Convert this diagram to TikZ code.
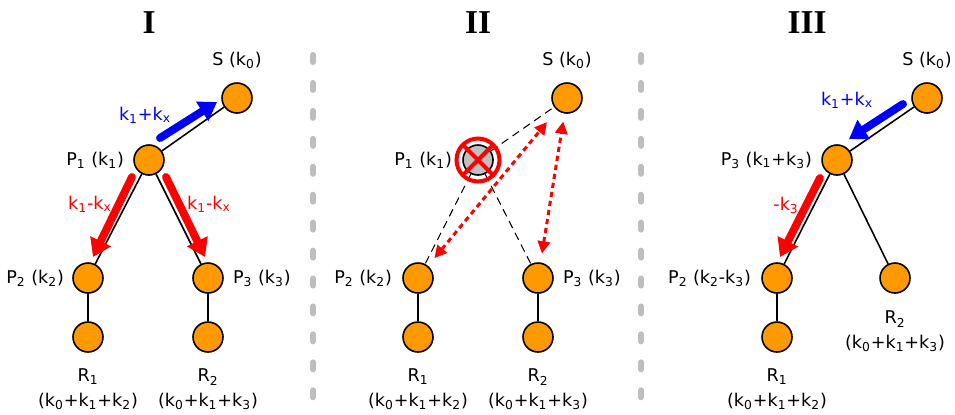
\documentclass[tikz,border=0pt]{standalone}
\usepackage{fontspec}
\setmainfont{DejaVu Sans}
\newfontfamily\titlefont{Liberation Serif}
\usetikzlibrary{arrows.meta,positioning,calc}
\definecolor{PeerOrange}{RGB}{255,153,0}
\definecolor{DeadGray}{RGB}{192,192,192}
\definecolor{SplitGray}{RGB}{190,190,190}
\newcommand{\ssub}[1]{\textsubscript{#1}}
\tikzset{
  peer/.style={circle,draw=black,fill=PeerOrange,line width=0.9pt,
    minimum size=0.6cm,inner sep=0pt},
  dead/.style={peer,fill=DeadGray},
  tag/.style={inner sep=0pt,align=center,font=\fontsize{10}{14.2}\selectfont},
  heading/.style={inner sep=0pt,font=\titlefont\bfseries\fontsize{19}{22}\selectfont},
  link/.style={line width=0.9pt},
  lost/.style={line width=0.6pt,dash pattern=on 4.5pt off 3pt},
  split/.style={line width=3.4pt,SplitGray,line cap=round,
    dash pattern=on 4pt off 11.9pt},
  gain/.style={line width=4.5pt,blue,line cap=round,
    -{Triangle[length=10pt,width=12.5pt]}},
  drop/.style={gain,red},
  probe/.style={line width=1.7pt,red,dash pattern=on 3pt off 2.2pt,
    {Triangle[length=7pt,width=7pt]}-{Triangle[length=7pt,width=7pt]}},
  cross/.style={line width=2.3pt,red}
}

\begin{document}
\begin{tikzpicture}[x=0.02cm,y=-0.02cm]
\useasboundingbox (0,0) rectangle (955,414);

% Titles
\node[heading] (t1) at (149,23) {I};
\node[heading] (t2) at (478,23) {II};
\node[heading] (t3) at (807,23) {III};

% Separators
\foreach \x in {313,641}{
  \draw[split] (\x,55) -- (\x,414);
}

% ---- I ----
\node[peer] (s1) at (237,98) {};
\node[peer] (p11) at (149,160) {};
\node[peer] (p12) at (88,278) {};
\node[peer] (p13) at (208,278) {};
\node[peer] (r11) at (88,337) {};
\node[peer] (r12) at (208,337) {};
\foreach \a/\b in {p11/s1,p11/p12,p11/p13,p12/r11,p13/r12}
  \draw[link] (\a) -- (\b);

\node[tag,above=0.26cm of s1] {S (k\ssub{0})};
\node[tag,left=0.18cm of p11] {P\ssub{1} (k\ssub{1})};
\node[tag,left=0.16cm of p12] {P\ssub{2} (k\ssub{2})};
\node[tag,right=0.18cm of p13] {P\ssub{3} (k\ssub{3})};
\node[tag,below=0.32cm of r11] {R\ssub{1}\\(k\ssub{0}+k\ssub{1}+k\ssub{2})};
\node[tag,below=0.32cm of r12] {R\ssub{2}\\(k\ssub{0}+k\ssub{1}+k\ssub{3})};

\coordinate (g1a) at (160,138);
\coordinate (g1b) at (217,102);
\draw[gain] (g1a) -- (g1b);
\coordinate (d1a) at (132,177);
\coordinate (d1b) at (93,257);
\draw[drop] (d1a) -- (d1b);
\coordinate (d2a) at (166,177);
\coordinate (d2b) at (205,257);
\draw[drop] (d2a) -- (d2b);
\node[tag,text=blue] at (145,115) {k\ssub{1}+k\ssub{x}};
\node[tag,text=red] at (90,204) {k\ssub{1}-k\ssub{x}};
\node[tag,text=red] at (209,204) {k\ssub{1}-k\ssub{x}};

% ---- II ----
\node[peer] (s2) at (567,98) {};
\node[dead] (p21) at (478,160) {};
\node[peer] (p22) at (418,278) {};
\node[peer] (p23) at (538,278) {};
\node[peer] (r21) at (418,337) {};
\node[peer] (r22) at (538,337) {};
\foreach \b in {s2,p22,p23}
  \draw[lost] (p21) -- (\b);
\draw[link] (p22) -- (r21);
\draw[link] (p23) -- (r22);

\draw[cross] (p21.center) circle[radius=0.43cm];
\draw[cross] ([shift={(-14,-14)}]p21.center) -- ([shift={(14,14)}]p21.center);
\draw[cross] ([shift={(-14,14)}]p21.center) -- ([shift={(14,-14)}]p21.center);

\draw[probe,shorten <=0.2cm,shorten >=0.31cm] (p22) -- (s2);
\draw[probe,shorten <=0.18cm,shorten >=0.16cm] (p23) -- (s2);

\node[tag,above=0.26cm of s2] {S (k\ssub{0})};
\node[tag,left=0.2cm of p21] {P\ssub{1} (k\ssub{1})};
\node[tag,left=0.2cm of p22] {P\ssub{2} (k\ssub{2})};
\node[tag,right=0.18cm of p23] {P\ssub{3} (k\ssub{3})};
\node[tag,below=0.32cm of r21] {R\ssub{1}\\(k\ssub{0}+k\ssub{1}+k\ssub{2})};
\node[tag,below=0.32cm of r22] {R\ssub{2}\\(k\ssub{0}+k\ssub{1}+k\ssub{3})};

% ---- III ----
\node[peer] (s3) at (927,98) {};
\node[peer] (p33) at (837,160) {};
\node[peer] (p32) at (777,278) {};
\node[peer] (r32) at (895,278) {};
\node[peer] (r31) at (777,337) {};
\foreach \a/\b in {p33/s3,p33/p32,p33/r32,p32/r31}
  \draw[link] (\a) -- (\b);

\coordinate (g3a) at (903,104);
\coordinate (g3b) at (849,139);
\draw[gain] (g3a) -- (g3b);
\coordinate (d3a) at (820,178);
\coordinate (d3b) at (780,257);
\draw[drop] (d3a) -- (d3b);
\node[tag,text=blue] at (847,100) {k\ssub{1}+k\ssub{x}};
\node[tag,text=red] at (786,205) {-k\ssub{3}};

\node[tag,above=0.26cm of s3] {S (k\ssub{0})};
\node[tag,left=0.18cm of p33] {P\ssub{3} (k\ssub{1}+k\ssub{3})};
\node[tag,left=0.2cm of p32] {P\ssub{2} (k\ssub{2}-k\ssub{3})};
\node[tag,below=0.32cm of r31] {R\ssub{1}\\(k\ssub{0}+k\ssub{1}+k\ssub{2})};
\node[tag,below=0.34cm of r32] {R\ssub{2}\\(k\ssub{0}+k\ssub{1}+k\ssub{3})};

\end{tikzpicture}
\end{document}
